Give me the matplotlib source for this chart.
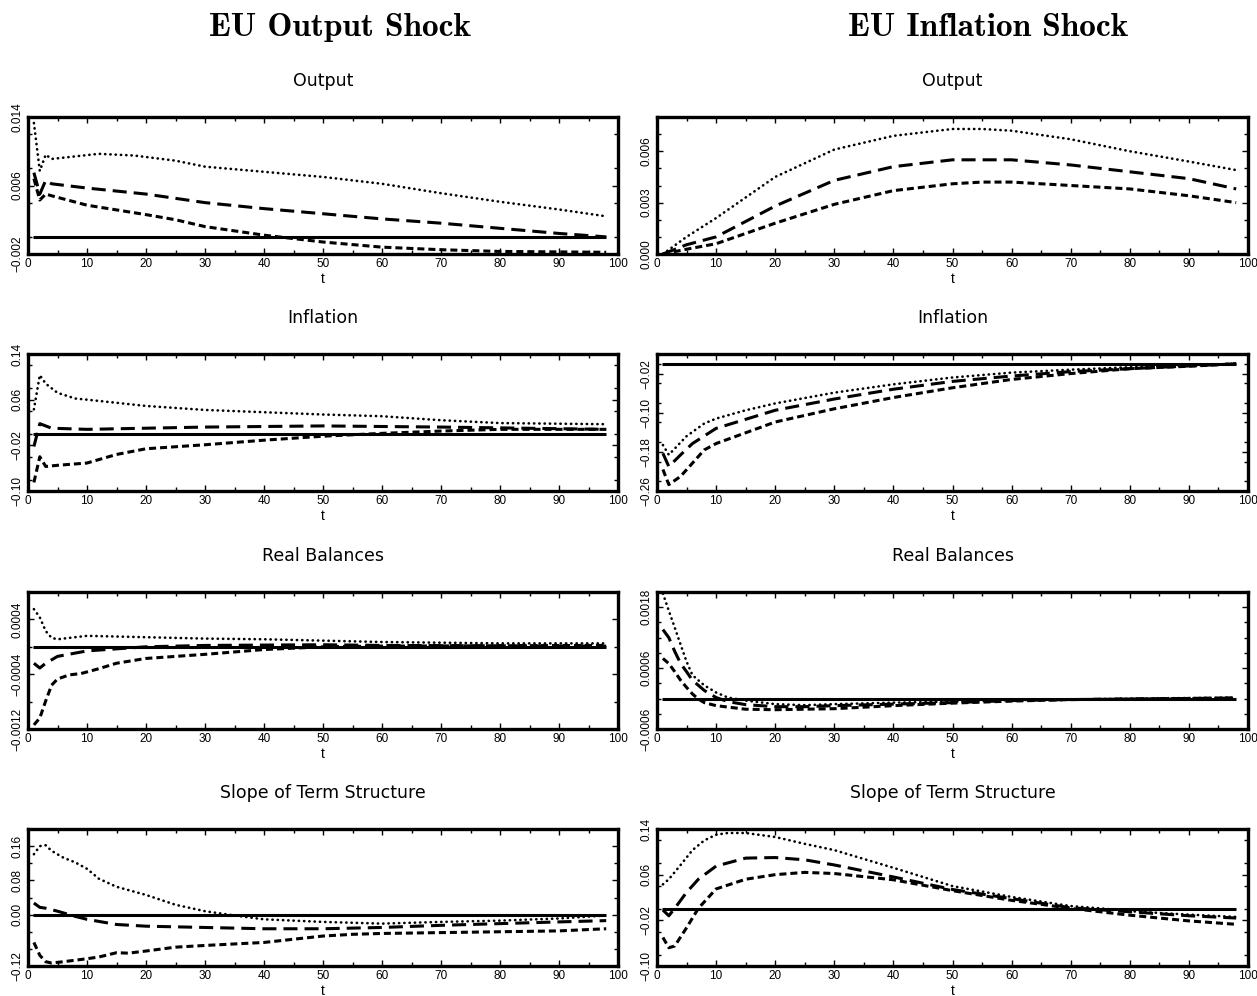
import matplotlib
matplotlib.use('Agg')
import matplotlib.pyplot as plt
from matplotlib.ticker import FixedLocator, FixedFormatter, MultipleLocator

# ---- EU output shock ----
# Output
oo_hi_t = [1, 2, 3, 4, 8, 12, 18, 25, 30, 40, 50, 60, 70, 80, 90, 98]
oo_hi = [0.0133, 0.0077, 0.0096, 0.0091, 0.0094, 0.0097, 0.0095, 0.0089, 0.0082,
         0.0076, 0.0070, 0.0062, 0.0051, 0.0041, 0.0032, 0.0024]
oo_md_t = [1, 2, 3, 4, 10, 20, 30, 40, 50, 60, 70, 80, 90, 98]
oo_md = [0.0075, 0.0050, 0.0066, 0.0062, 0.0057, 0.0050, 0.0040, 0.0033, 0.0027,
         0.0021, 0.0016, 0.0010, 0.0004, 0.0000]
oo_lo_t = [1, 2, 3, 4, 10, 20, 25, 30, 40, 50, 60, 70, 80, 98]
oo_lo = [0.0068, 0.0043, 0.0050, 0.0048, 0.0037, 0.0026, 0.0020, 0.0012, 0.0002,
         -0.0006, -0.0012, -0.0015, -0.0017, -0.0018]

# Inflation
oi_hi_t = [1, 2, 3, 5, 8, 10, 20, 30, 40, 50, 60, 70, 80, 98]
oi_hi = [0.043, 0.103, 0.088, 0.072, 0.062, 0.060, 0.049, 0.042, 0.038, 0.034,
         0.031, 0.024, 0.019, 0.017]
oi_md_t = [1, 2, 4, 10, 30, 50, 70, 98]
oi_md = [-0.022, 0.018, 0.010, 0.008, 0.012, 0.014, 0.012, 0.008]
oi_lo_t = [1, 2, 3, 5, 10, 15, 20, 30, 40, 50, 60, 70, 80, 98]
oi_lo = [-0.085, -0.040, -0.057, -0.055, -0.051, -0.036, -0.026, -0.019, -0.011,
         -0.004, 0.001, 0.005, 0.008, 0.008]

# Real balances
om_hi_t = [1, 2, 3, 4, 5, 7, 10, 15, 20, 30, 40, 50, 60, 70, 80, 98]
om_hi = [0.00055, 0.00043, 0.00023, 0.00013, 0.00011, 0.00013, 0.00016, 0.00015,
         0.00014, 0.00012, 0.00011, 0.00009, 0.00007, 0.00006, 0.00005, 0.00005]
om_md_t = [1, 2, 3, 5, 10, 20, 30, 50, 60, 98]
om_md = [-0.00024, -0.00031, -0.00024, -0.00014, -0.00006, 0.0, 0.00002, 0.00003,
         0.00002, 0.00001]
om_lo_t = [1, 2, 3, 4, 5, 7, 9, 12, 15, 20, 30, 40, 50, 60, 98]
om_lo = [-0.00114, -0.00104, -0.00079, -0.00056, -0.00047, -0.00041, -0.00039,
         -0.00032, -0.00024, -0.00017, -0.00011, -0.00004, 0.0, 0.00001, 0.00002]

# Slope of term structure
os_hi_t = [1, 2, 3, 4, 6, 8, 10, 12, 15, 20, 25, 30, 35, 40, 50, 60, 70, 80, 90, 98]
os_hi = [0.141, 0.160, 0.162, 0.149, 0.133, 0.122, 0.107, 0.084, 0.065, 0.046,
         0.023, 0.008, -0.002, -0.011, -0.017, -0.021, -0.017, -0.014, -0.009, -0.002]
os_md_t = [1, 2, 3, 5, 8, 10, 15, 20, 30, 40, 50, 60, 70, 80, 90, 98]
os_md = [0.027, 0.017, 0.015, 0.008, -0.004, -0.011, -0.023, -0.027, -0.030,
         -0.033, -0.033, -0.030, -0.025, -0.021, -0.017, -0.014]
os_lo_t = [1, 2, 3, 4, 6, 10, 12, 15, 17, 20, 25, 30, 40, 50, 55, 60, 70, 80, 90, 98]
os_lo = [-0.065, -0.095, -0.110, -0.113, -0.110, -0.103, -0.099, -0.089, -0.090,
         -0.085, -0.076, -0.072, -0.065, -0.050, -0.046, -0.044, -0.042, -0.040,
         -0.038, -0.033]

# ---- EU inflation shock ----
# Output
io_t = [1, 5, 10, 20, 30, 40, 50, 55, 60, 70, 80, 90, 98]
io_hi = [0.0, 0.0010, 0.0021, 0.0045, 0.0061, 0.0069, 0.0073, 0.0073, 0.0072,
         0.0067, 0.0060, 0.0054, 0.0049]
io_md = [0.0, 0.00054, 0.0010, 0.0028, 0.0043, 0.0051, 0.0055, 0.0055, 0.0055,
         0.0052, 0.0048, 0.0044, 0.0038]
io_lo = [0.0, 0.00028, 0.0006, 0.0018, 0.0029, 0.0037, 0.0041, 0.0042, 0.0042,
         0.0040, 0.0038, 0.0034, 0.0030]

# Inflation
ii_hi_t = [1, 2, 5, 8, 10, 15, 20, 30, 40, 50, 60, 70, 80, 90, 98]
ii_hi = [-0.166, -0.186, -0.148, -0.122, -0.112, -0.095, -0.081, -0.059, -0.042,
         -0.028, -0.018, -0.012, -0.007, -0.003, 0.0]
ii_md_t = [1, 2, 4, 6, 10, 20, 30, 40, 50, 60, 70, 80, 98]
ii_md = [-0.183, -0.210, -0.186, -0.163, -0.132, -0.095, -0.072, -0.052, -0.036,
         -0.025, -0.016, -0.010, 0.0]
ii_lo_t = [1, 2, 4, 6, 8, 10, 20, 30, 40, 50, 60, 70, 80, 90, 98]
ii_lo = [-0.216, -0.247, -0.230, -0.203, -0.176, -0.163, -0.119, -0.092, -0.069,
         -0.049, -0.032, -0.020, -0.010, -0.005, 0.0]

# Real balances
im_hi_t = [1, 2, 3, 4, 5, 6, 8, 10, 12, 15, 20, 25, 30, 40, 50, 60, 70, 80, 98]
im_hi = [0.00207, 0.00173, 0.00140, 0.00106, 0.00073, 0.00046, 0.00026, 0.00012,
         0.00002, -0.00004, -0.00011, -0.00013, -0.00011, -0.00008, -0.00006,
         -0.00003, -0.00002, 0.0, 0.00002]
im_md_t = [1, 2, 3, 4, 5, 6, 8, 10, 12, 15, 20, 25, 30, 40, 50, 60, 70, 98]
im_md = [0.00136, 0.00120, 0.00093, 0.00069, 0.00053, 0.00036, 0.00016, 0.00002,
         -0.00006, -0.00012, -0.00016, -0.00016, -0.00014, -0.00011, -0.00008,
         -0.00004, -0.00002, 0.00001]
im_lo_t = [1, 2, 3, 4, 5, 6, 7, 8, 10, 15, 20, 25, 30, 40, 50, 60, 70, 98]
im_lo = [0.00079, 0.00069, 0.00053, 0.00036, 0.00022, 0.00009, -0.00001, -0.00008,
         -0.00014, -0.00021, -0.00022, -0.00021, -0.00020, -0.00014, -0.00009,
         -0.00005, -0.00002, 0.00001]

# Slope of term structure
is_hi_t = [1, 2, 4, 6, 8, 10, 12, 15, 20, 25, 30, 40, 50, 60, 70, 75, 80, 90, 98]
is_hi = [0.043, 0.052, 0.077, 0.103, 0.120, 0.130, 0.133, 0.133, 0.126, 0.114,
         0.103, 0.072, 0.040, 0.021, 0.005, 0.001, -0.004, -0.010, -0.014]
is_t = [1, 2, 3, 5, 7, 10, 15, 20, 25, 30, 40, 50, 60, 70, 80, 90, 98]
is_md = [-0.002, -0.012, 0.001, 0.029, 0.052, 0.075, 0.089, 0.090, 0.086, 0.077,
         0.056, 0.034, 0.018, 0.002, -0.005, -0.012, -0.016]
is_lo = [-0.050, -0.068, -0.065, -0.033, 0.001, 0.035, 0.052, 0.060, 0.064, 0.062,
         0.051, 0.032, 0.015, 0.001, -0.011, -0.021, -0.027]

col_titles = ['EU Output Shock', 'EU Inflation Shock']
row_titles = ['Output', 'Inflation', 'Real Balances', 'Slope of Term Structure']

# y ranges / labelled ticks as in the figure
ylims = [[(-0.002, 0.014), (0.0, 0.008)],
         [(-0.10, 0.14), (-0.26, 0.02)],
         [(-0.0012, 0.0008), (-0.0006, 0.0021)],
         [(-0.12, 0.20), (-0.10, 0.14)]]
yticks = [[[-0.002, 0.006, 0.014], [0.0, 0.003, 0.006]],
          [[-0.10, -0.02, 0.06, 0.14], [-0.26, -0.18, -0.10, -0.02]],
          [[-0.0012, -0.0004, 0.0004], [-0.0006, 0.0006, 0.0018]],
          [[-0.12, 0.0, 0.08, 0.16], [-0.10, -0.02, 0.06, 0.14]]]
ylabels = [[['−0.002', '0.006', '0.014'], ['0.000', '0.003', '0.006']],
           [['−0.10', '−0.02', '0.06', '0.14'], ['−0.26', '−0.18', '−0.10', '−0.02']],
           [['−0.0012', '−0.0004', '0.0004'], ['−0.0006', '0.0006', '0.0018']],
           [['−0.12', '0.00', '0.08', '0.16'], ['−0.10', '−0.02', '0.06', '0.14']]]
yminor = [[0.004, 0.001], [0.04, 0.04], [0.0004, 0.0003], [0.04, 0.04]]

series = [
    [[(oo_hi_t, oo_hi), (oo_md_t, oo_md), (oo_lo_t, oo_lo)],
     [(io_t, io_hi), (io_t, io_md), (io_t, io_lo)]],
    [[(oi_hi_t, oi_hi), (oi_md_t, oi_md), (oi_lo_t, oi_lo)],
     [(ii_hi_t, ii_hi), (ii_md_t, ii_md), (ii_lo_t, ii_lo)]],
    [[(om_hi_t, om_hi), (om_md_t, om_md), (om_lo_t, om_lo)],
     [(im_hi_t, im_hi), (im_md_t, im_md), (im_lo_t, im_lo)]],
    [[(os_hi_t, os_hi), (os_md_t, os_md), (os_lo_t, os_lo)],
     [(is_hi_t, is_hi), (is_t, is_md), (is_t, is_lo)]],
]

W, H = 1257, 996
fig = plt.figure(figsize=(W / 100, H / 100), dpi=100)
plt.rcParams['font.family'] = ['Liberation Sans', 'DejaVu Sans']

col_left = [28, 657]
col_width = [590, 591]
row_top = [117, 354, 592, 829]
row_h = 137

styles = [
    dict(linestyle=(0, (0.1, 1.9)), linewidth=1.9, dash_capstyle='round'),
    dict(linestyle=(0, (4.6, 2.3)), linewidth=2.2),
    dict(linestyle=(0, (2.3, 1.3)), linewidth=2.2),
]

for r in range(4):
    for c in range(2):
        x0 = col_left[c] / W
        y0 = 1 - (row_top[r] + row_h) / H
        ax = fig.add_axes([x0, y0, col_width[c] / W, row_h / H])
        for (tt, vv), st in zip(series[r][c], styles):
            ax.plot(tt, vv, color='black', **st)
        # zero line
        ax.plot([0.8, 98], [0, 0], color='black', linewidth=2.2, solid_capstyle='butt')

        ax.set_xlim(0, 100)
        ax.set_ylim(*ylims[r][c])
        ax.xaxis.set_major_locator(MultipleLocator(10))
        ax.xaxis.set_minor_locator(MultipleLocator(5))
        ax.yaxis.set_major_locator(FixedLocator(yticks[r][c]))
        ax.yaxis.set_major_formatter(FixedFormatter(ylabels[r][c]))
        ax.yaxis.set_minor_locator(MultipleLocator(yminor[r][c]))
        ax.tick_params(which='both', direction='in', top=True, right=True,
                       width=1.0, color='black')
        ax.tick_params(which='major', length=4, labelsize=8.5, pad=3)
        ax.tick_params(which='minor', length=3)
        for lab in ax.get_yticklabels():
            lab.set_rotation(90)
            lab.set_va('center')
        for sp in ax.spines.values():
            sp.set_linewidth(2.4)
        ax.set_xlabel('t', fontsize=10, labelpad=1)
        ax.set_title(row_titles[r], fontsize=12.5, pad=22, family='DejaVu Sans')

fig.text(340 / W, 1 - 28 / H, col_titles[0], ha='center', va='center',
         fontsize=24, fontweight='bold', family='cmb10')
fig.text(988 / W, 1 - 28 / H, col_titles[1], ha='center', va='center',
         fontsize=24, fontweight='bold', family='cmb10')

fig.savefig('out.png', dpi=100)
